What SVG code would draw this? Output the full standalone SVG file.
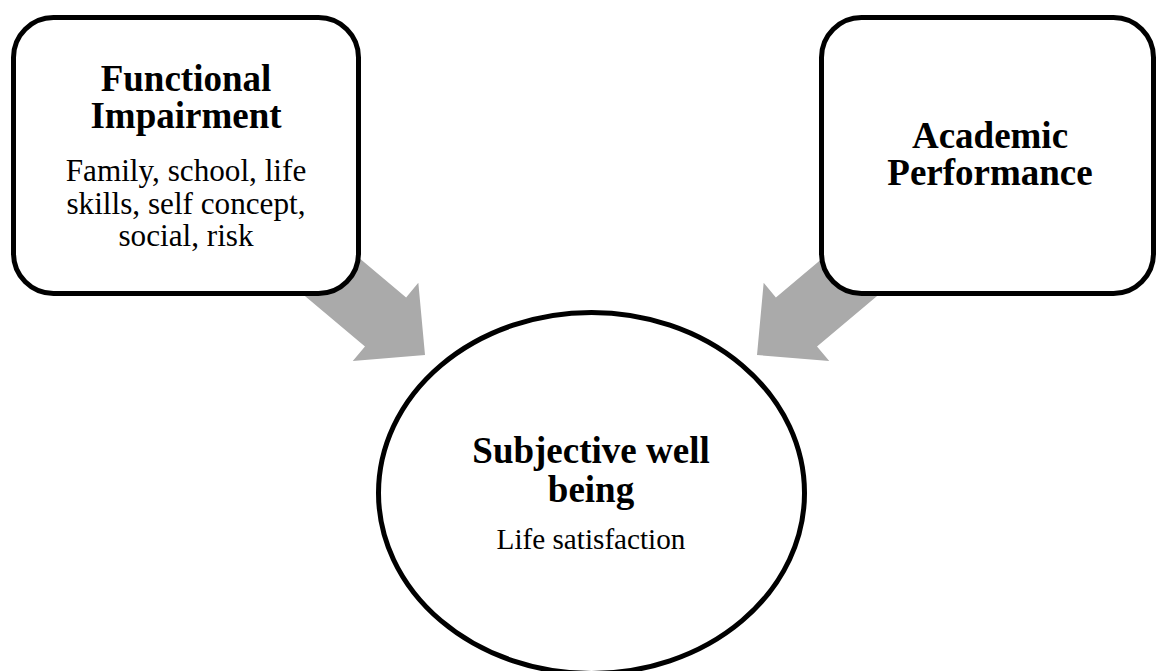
<svg xmlns="http://www.w3.org/2000/svg" width="1157" height="671" viewBox="0 0 1157 671">
<style>
.box{fill:#fff;stroke:#000;stroke-width:5}
.arrow{fill:#aaaaaa;stroke:none}
.t{font-family:"Liberation Serif","Times New Roman",serif;text-anchor:middle;fill:#000}
.h{font-size:37px;font-weight:bold}
.b{font-size:31.2px}
.s{font-size:29.2px}
</style>
<defs>
<polygon id="blk" points="0,0 -51.5,51 -51.5,32 -180,32 -180,-32 -51.5,-32 -51.5,-51"/>
</defs>
<g id="connectors">
<use href="#blk" class="arrow" transform="translate(425,355) rotate(40)"/>
<use href="#blk" class="arrow" transform="translate(757,355) rotate(140)"/>
</g>
<g id="functional-impairment">
<rect class="box" x="13.5" y="17.5" width="345" height="276" rx="40" ry="40"/>
<text class="t h" x="186" y="91">Functional</text>
<text class="t h" x="186" y="128">Impairment</text>
<text class="t b" x="186" y="181">Family, school, life</text>
<text class="t b" x="186" y="214">skills, self concept,</text>
<text class="t b" x="186" y="246">social, risk</text>
</g>
<g id="academic-performance">
<rect class="box" x="821.5" y="17.5" width="332" height="276" rx="40" ry="40"/>
<text class="t h" x="990" y="148">Academic</text>
<text class="t h" x="990" y="185">Performance</text>
</g>
<g id="subjective-well-being">
<ellipse class="box" cx="591.5" cy="493" rx="213" ry="180.5"/>
<text class="t h" x="591" y="463">Subjective well</text>
<text class="t h" x="591" y="502">being</text>
<text class="t s" x="591" y="549">Life satisfaction</text>
</g>
</svg>
